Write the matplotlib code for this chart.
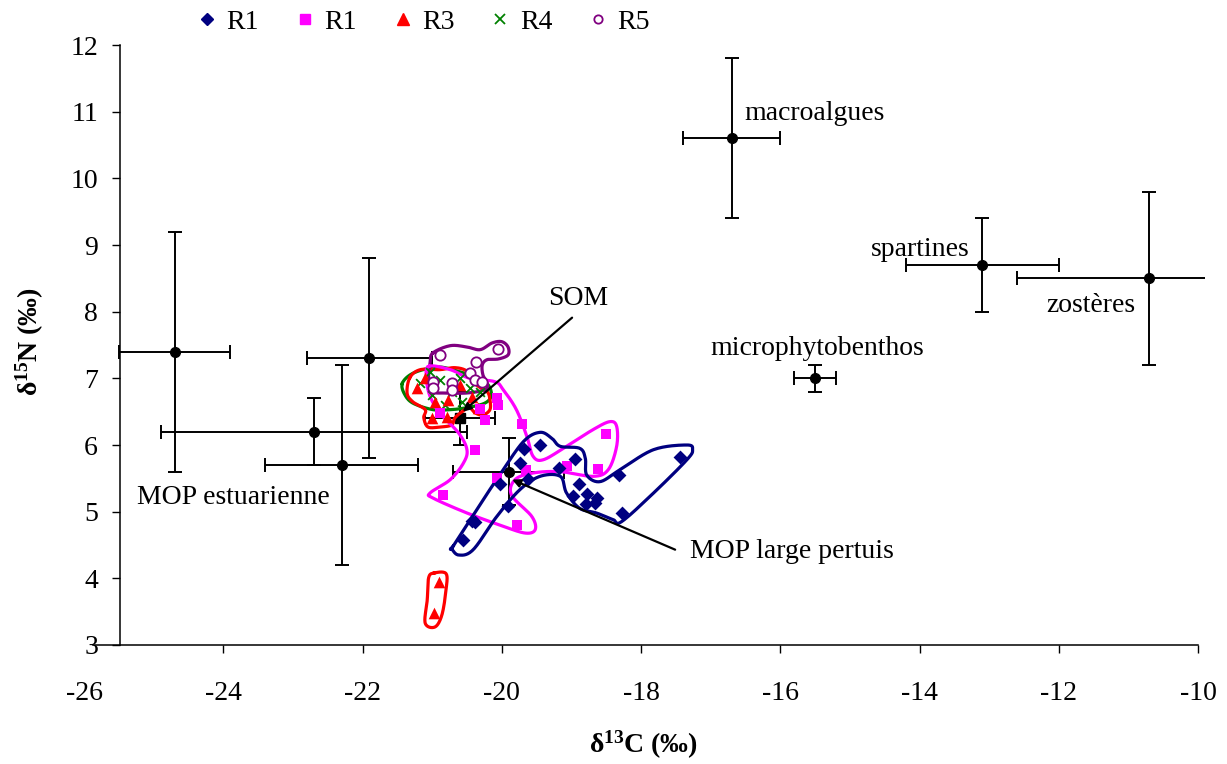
import numpy as np
import matplotlib
matplotlib.use("Agg")
import matplotlib.pyplot as plt
from matplotlib.lines import Line2D

plt.rcParams['font.family'] = ['Liberation Serif', 'DejaVu Serif']
plt.rcParams['mathtext.fontset'] = 'custom'
plt.rcParams['mathtext.rm'] = 'Liberation Serif'
plt.rcParams['mathtext.bf'] = 'Liberation Serif:bold'
plt.rcParams['mathtext.it'] = 'Liberation Serif:italic'
plt.rcParams['axes.unicode_minus'] = False

#SOURCES (mean +/- sd)
src_x = [-16.7, -13.1, -10.7, -15.5, -24.7, -21.9, -22.7, -22.3, -19.9]
src_y = [10.6, 8.7, 8.5, 7.0, 7.4, 7.3, 6.2, 5.7, 5.6]
src_xerr = [0.7, 1.1, 1.9, 0.3, 0.8, 0.9, 2.2, 1.1, 0.8]
src_yerr = [1.2, 0.7, 1.3, 0.2, 1.8, 1.5, 0.5, 1.5, 0.5]
som_x, som_y, som_xerr, som_yerr = -20.6, 6.4, 0.5, 0.4

#CONSUMERS
r1_x = [-19.45, -19.68, -18.95, -19.74, -19.18, -19.62, -18.32, -17.44, -20.03, -18.89,
        -18.98, -18.78, -18.63, -18.79, -18.66, -19.91, -18.27, -20.38, -20.43, -20.56]
r1_y = [6.00, 5.94, 5.79, 5.73, 5.66, 5.49, 5.55, 5.82, 5.42, 5.42,
        5.24, 5.27, 5.21, 5.12, 5.13, 5.09, 4.98, 4.85, 4.86, 4.58]
r1b_x = [-20.07, -20.05, -20.24, -20.31, -19.71, -20.38, -18.50, -19.06, -18.62, -19.65,
         -20.07, -20.84, -19.78, -20.89]
r1b_y = [6.71, 6.60, 6.38, 6.54, 6.32, 5.93, 6.17, 5.69, 5.64, 5.63,
         5.51, 5.25, 4.80, 6.48]
r3_x = [-21.22, -21.00, -20.79, -20.96, -20.77, -20.43, -20.34, -21.10, -20.60, -20.90, -20.97]
r3_y = [6.86, 6.41, 6.42, 6.65, 6.68, 6.72, 6.56, 7.00, 6.90, 3.94, 3.48]
r4_x = [-21.17, -21.00, -20.89, -20.71, -20.60, -20.46, -20.31, -20.82, -20.57, -21.03]
r4_y = [6.93, 6.75, 6.98, 6.80, 7.00, 6.86, 6.80, 6.60, 6.65, 7.10]
r5_x = [-20.89, -20.37, -20.05, -20.46, -20.38, -20.28, -20.99, -20.71, -20.71, -20.99]
r5_y = [7.35, 7.25, 7.44, 7.08, 6.98, 6.95, 6.95, 6.93, 6.83, 6.86]

#HAND DRAWN OUTLINES (data units)
navy_line = [(-20.70, 4.48), (-20.36, 5.03), (-20.03, 5.55), (-19.69, 6.05), (-19.45, 6.19),
             (-19.28, 6.10), (-19.16, 5.98), (-18.88, 5.95), (-18.80, 5.80), (-18.78, 5.55),
             (-18.59, 5.45), (-18.30, 5.63), (-17.82, 5.93), (-17.34, 6.00), (-17.26, 5.93),
             (-17.34, 5.78), (-17.82, 5.28), (-18.28, 4.85), (-18.40, 4.88), (-18.64, 4.98),
             (-18.88, 5.05), (-19.07, 5.28), (-19.16, 5.53), (-19.45, 5.53), (-19.74, 5.33),
             (-20.07, 4.93), (-20.41, 4.43), (-20.62, 4.35), (-20.72, 4.45)]
pink_line = [(-21.05, 7.18), (-20.74, 7.13), (-20.46, 7.00), (-20.10, 6.95), (-19.98, 6.83),
             (-19.79, 6.53), (-19.64, 6.13), (-19.55, 5.83), (-19.40, 5.78), (-19.07, 5.98),
             (-18.69, 6.23), (-18.45, 6.35), (-18.35, 6.28), (-18.35, 5.98), (-18.47, 5.63),
             (-18.69, 5.53), (-19.16, 5.60), (-19.55, 5.58), (-19.81, 5.48), (-19.86, 5.25),
             (-19.57, 4.93), (-19.52, 4.73), (-19.67, 4.68), (-20.03, 4.80), (-20.50, 4.98),
             (-20.98, 5.20), (-21.03, 5.28), (-20.74, 5.48), (-20.55, 5.73), (-20.50, 5.93),
             (-20.62, 6.18), (-20.89, 6.48), (-21.03, 6.73), (-21.08, 6.98)]
red_line = [(-21.32, 7.01), (-21.17, 7.13), (-20.89, 7.13), (-20.67, 7.16), (-20.49, 7.10),
            (-20.36, 6.90), (-20.21, 6.80), (-20.17, 6.68), (-20.17, 6.53), (-20.27, 6.45),
            (-20.38, 6.48), (-20.46, 6.56), (-20.53, 6.53), (-20.67, 6.41), (-20.72, 6.30),
            (-20.89, 6.27), (-21.06, 6.27), (-21.12, 6.41), (-21.10, 6.53), (-21.28, 6.65),
            (-21.36, 6.78)]
red_line2 = [(-20.97, 4.08), (-20.80, 4.07), (-20.80, 3.83), (-20.86, 3.45), (-20.96, 3.27),
             (-21.10, 3.33), (-21.07, 3.68), (-21.05, 4.01)]
green_line = [(-21.43, 6.92), (-21.32, 7.05), (-21.13, 7.13), (-20.89, 7.17), (-20.64, 7.11),
              (-20.43, 7.04), (-20.21, 6.92), (-20.15, 6.75), (-20.24, 6.63), (-20.50, 6.56),
              (-20.74, 6.53), (-20.99, 6.53), (-21.28, 6.63), (-21.40, 6.77)]
purple_line = [(-20.99, 7.38), (-20.74, 7.49), (-20.50, 7.47), (-20.31, 7.43), (-20.14, 7.53),
               (-20.00, 7.55), (-19.91, 7.47), (-19.91, 7.35), (-20.05, 7.29), (-20.21, 7.28),
               (-20.28, 7.20), (-20.27, 7.05), (-20.21, 6.93), (-20.24, 6.83), (-20.50, 6.78),
               (-20.79, 6.78), (-21.00, 6.80), (-21.05, 6.98), (-21.03, 7.23)]


def smooth_closed(pts, n=16):
    #closed catmull-rom spline through the points
    pts = np.asarray(pts, dtype=float)
    N = len(pts)
    t = np.linspace(0, 1, n, endpoint=False)[:, None]
    out = []
    for i in range(N):
        p0, p1, p2, p3 = pts[(i - 1) % N], pts[i], pts[(i + 1) % N], pts[(i + 2) % N]
        seg = 0.5 * (2 * p1 + (-p0 + p2) * t + (2 * p0 - 5 * p1 + 4 * p2 - p3) * t ** 2
                     + (-p0 + 3 * p1 - 3 * p2 + p3) * t ** 3)
        out.append(seg)
    out.append(pts[:1])
    out = np.vstack(out)
    return out[:, 0], out[:, 1]


fig = plt.figure(figsize=(12.27, 7.64), dpi=100)
ax = fig.add_axes([84 / 1227, 1 - 645 / 764, (1205 - 84) / 1227, 600 / 764])

#error bars of the sources
ax.errorbar(src_x, src_y, xerr=src_xerr, yerr=src_yerr, fmt='o', color='black',
            ms=7, elinewidth=1.4, capsize=5, capthick=1.4, zorder=2)
ax.errorbar([som_x], [som_y], xerr=[som_xerr], yerr=[som_yerr], fmt='s', color='black',
            ms=7, elinewidth=1.4, capsize=5, capthick=1.4, zorder=2)

#outlines
for line, col in [(green_line, '#008000'), (red_line, '#FF0000'), (red_line2, '#FF0000'),
                  (purple_line, '#800080'), (pink_line, '#FF00FF'), (navy_line, '#000080')]:
    sx, sy = smooth_closed(line)
    ax.plot(sx, sy, color=col, lw=2.3, zorder=4)

ax.scatter(r4_x, r4_y, marker='x', color='#008000', s=40, lw=1.3, zorder=5)
ax.scatter(r3_x, r3_y, marker='^', color='#FF0000', s=70, lw=0, zorder=5)
ax.scatter(r5_x, r5_y, marker='o', facecolor='white', edgecolor='#800080', s=55, lw=1.3, zorder=5)
ax.scatter(r1b_x, r1b_y, marker='s', color='#FF00FF', s=60, lw=0, zorder=5)
ax.scatter(r1_x, r1_y, marker='D', color='#000080', s=50, lw=0, zorder=5)

#labels of the sources
fs = 20
ax.text(-16.51, 10.98, 'macroalgues', fontsize=fs, va='center')
ax.text(-14.70, 8.94, 'spartines', fontsize=fs, va='center')
ax.text(-12.18, 8.10, 'zostères', fontsize=fs, va='center')
ax.text(-17.01, 7.45, 'microphytobenthos', fontsize=fs, va='center')
ax.text(-19.34, 8.20, 'SOM', fontsize=fs, va='center')
ax.text(-25.24, 5.22, 'MOP estuarienne', fontsize=fs, va='center')
ax.text(-17.30, 4.40, 'MOP large pertuis', fontsize=fs, va='center')
arrow = dict(arrowstyle='-|>', color='black', lw=1.6, mutation_scale=12, shrinkA=0, shrinkB=0)
ax.annotate('', xy=(-20.56, 6.50), xytext=(-18.99, 7.91), arrowprops=arrow, zorder=6)
ax.annotate('', xy=(-19.85, 5.48), xytext=(-17.51, 4.43), arrowprops=arrow, zorder=6)

#axes
ax.set_xlim(-26, -9.9)
ax.set_ylim(3, 12)
ax.set_xticks(np.arange(-26, -9, 2))
ax.set_yticks(np.arange(3, 13, 1))
ax.spines['top'].set_visible(False)
ax.spines['right'].set_visible(False)
ax.spines['left'].set_position(('data', -25.48))
ax.spines['bottom'].set_bounds(-25.87, -10)
for s in ['left', 'bottom']:
    ax.spines[s].set_linewidth(1.1)
ax.tick_params(axis='x', direction='out', length=6, width=1, labelsize=fs, pad=20)
ax.tick_params(axis='y', direction='out', length=6, width=1, labelsize=fs, pad=10)
ax.xaxis.get_major_ticks()[0].tick1line.set_visible(False)

fig.text(643 / 1227, 1 - 745 / 764, 'δ$^{\\mathbf{13}}$C (‰)', fontsize=fs, fontweight='bold',
         ha='center', va='center')
fig.text(30 / 1227, 1 - 342 / 764, 'δ$^{\\mathbf{15}}$N (‰)', fontsize=fs, fontweight='bold',
         ha='center', va='center', rotation=90)

#legend
handles = [
    Line2D([], [], ls='', marker='D', color='#000080', ms=6),
    Line2D([], [], ls='', marker='s', color='#FF00FF', ms=7),
    Line2D([], [], ls='', marker='^', color='#FF0000', ms=8),
    Line2D([], [], ls='', marker='x', color='#008000', ms=7, mew=1.3),
    Line2D([], [], ls='', marker='o', mfc='white', mec='#800080', ms=6, mew=1.3),
]
fig.legend(handles, ['R1', 'R1', 'R3', 'R4', 'R5'], ncol=5, frameon=False, fontsize=fs,
           loc='center', bbox_to_anchor=(423 / 1227, 1 - 22 / 764),
           handlelength=0.8, handletextpad=0.3, columnspacing=1.25, borderpad=0)

fig.savefig('out.png', dpi=100)
